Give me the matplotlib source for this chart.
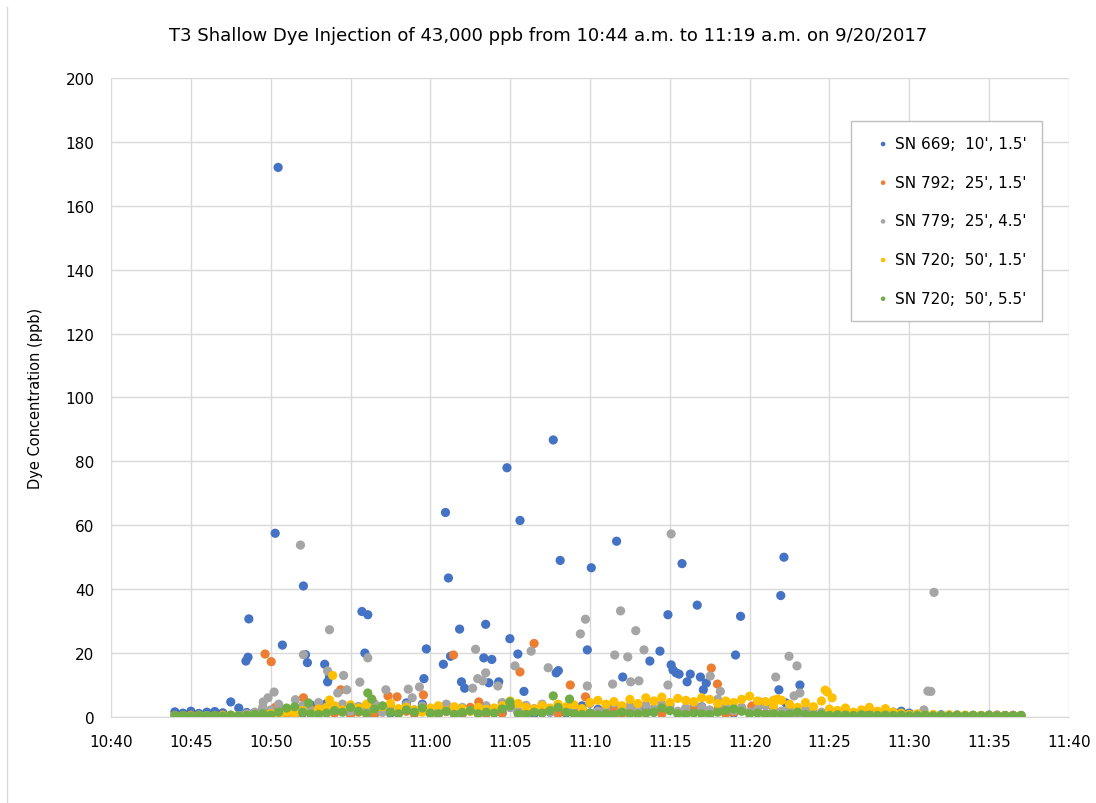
import datetime as dt

import matplotlib as mpl
mpl.use('Agg')
import matplotlib.pyplot as plt
import matplotlib.dates as mdates
from matplotlib.lines import Line2D

# base logger readings every 30 s, 10:44:00 .. 11:37:00 (one row = 5 minutes)
blue_base = [1.6, 1.2, 1.8, 1.1, 1.5, 1.7, 1.3, 4.7, 2.8, 1.4,
             1.0, 2.2, 0.8, 3.0, 1.5, 2.4, 1.2, 3.8, 2.0, 4.2,
             1.5, 2.5, 1.0, 3.2, 1.8, 0.8, 2.6, 1.2, 2.0, 4.4,
             2.2, 4.0, 1.2, 3.0, 1.8, 2.5, 1.0, 2.8, 1.5, 2.0,
             2.5, 1.2, 3.0, 1.5, 2.2, 1.0, 2.8, 1.5, 2.0, 1.2,
             1.8, 3.5, 1.2, 2.4, 1.0, 2.6, 1.5, 3.0, 1.2, 2.0,
             1.5, 2.8, 4.0, 1.2, 2.5, 1.8, 3.2, 1.0, 2.2, 1.5,
             1.2, 2.0, 1.5, 3.0, 1.0, 2.2, 1.5, 1.8, 1.0, 1.4,
             1.2, 0.8, 1.5, 1.0, 1.3, 0.9, 1.6, 1.1, 1.4, 1.0,
             1.5, 1.8, 1.2, 0.8, 0.6, 0.5, 0.7, 0.5, 0.6, 0.4,
             0.5, 0.4, 0.6, 0.5, 0.4, 0.5, 0.4]
orange_base = [0.5, 0.4, 0.6, 0.5, 0.4, 0.5, 0.6, 0.5, 0.4, 0.6,
               0.8, 1.5, 1.0, 2.0, 1.2, 0.8, 1.5, 2.5, 1.0, 1.8,
               1.2, 2.0, 0.8, 1.5, 2.2, 1.0, 1.6, 2.4, 1.2, 1.8,
               1.0, 2.2, 1.5, 0.8, 1.8, 2.5, 1.2, 3.0, 1.5, 1.0,
               2.0, 1.2, 3.2, 1.5, 0.8, 2.6, 1.4, 2.0, 1.0, 1.6,
               1.2, 2.4, 0.8, 1.8, 1.4, 2.2, 1.0, 1.5, 2.6, 1.2,
               1.8, 1.0, 2.4, 1.5, 2.0, 3.0, 1.2, 1.6, 2.2, 1.0,
               1.5, 2.8, 1.2, 1.8, 1.0, 2.0, 1.4, 0.8, 1.2, 1.0,
               0.8, 1.0, 0.6, 0.9, 0.7, 1.0, 0.6, 0.8, 0.5, 0.7,
               0.6, 0.5, 0.7, 0.4, 0.6, 0.5, 0.4, 0.5, 0.6, 0.4,
               0.5, 0.4, 0.5, 0.6, 0.4, 0.5, 0.4]
gray_base = [0.3, 0.4, 0.3, 0.5, 0.3, 0.4, 0.3, 0.5, 0.4, 1.0,
             1.5, 3.0, 2.2, 4.0, 2.5, 1.8, 3.5, 2.0, 4.5, 3.0,
             2.5, 4.0, 1.8, 3.2, 2.6, 4.2, 1.5, 3.0, 2.2, 3.8,
             2.0, 3.4, 1.6, 2.8, 4.0, 2.2, 3.0, 1.8, 2.6, 3.5,
             2.2, 4.5, 3.0, 1.8, 3.6, 2.4, 4.0, 1.6, 3.2, 2.5,
             3.5, 2.2, 4.2, 1.8, 3.0, 4.4, 2.6, 3.4, 2.0, 3.8,
             2.6, 4.0, 3.2, 1.8, 2.8, 4.5, 3.0, 2.2, 5.5, 3.2,
             2.0, 3.0, 1.5, 2.5, 3.5, 2.0, 1.8, 2.8, 1.2, 2.2,
             1.0, 1.5, 0.8, 1.2, 0.6, 1.0, 0.8, 0.5, 0.7, 0.6,
             0.5, 0.6, 0.4, 0.5, 0.4, 0.6, 0.4, 0.5, 0.3, 0.4,
             0.4, 0.3, 0.4, 0.3, 0.4, 0.3, 0.4]
yellow_base = [0.3, 0.4, 0.3, 0.5, 0.4, 0.3, 0.5, 0.4, 0.3, 0.5,
               0.6, 0.8, 1.0, 0.7, 1.5, 1.2, 2.0, 1.0, 2.5, 3.0,
               3.5, 2.2, 3.8, 2.8, 4.0, 2.5, 3.2, 4.2, 2.6, 3.0,
               2.2, 1.5, 2.8, 3.5, 2.0, 3.2, 2.6, 1.8, 3.0, 2.4,
               2.8, 3.5, 5.0, 4.2, 3.0, 2.5, 3.6, 2.8, 4.0, 3.2,
               3.8, 2.6, 4.5, 5.2, 4.0, 4.8, 3.5, 5.5, 4.2, 6.0,
               5.0, 6.2, 4.5, 5.8, 5.2, 4.8, 6.0, 5.5, 4.2, 5.0,
               4.5, 5.5, 6.5, 5.0, 4.8, 3.5, 5.2, 4.0, 3.0, 4.5,
               3.2, 5.0, 2.5, 2.0, 2.8, 1.5, 2.2, 3.0, 1.8, 2.6,
               1.5, 1.2, 0.8, 1.0, 0.6, 0.8, 0.5, 0.7, 0.5, 0.6,
               0.4, 0.5, 0.4, 0.3, 0.4, 0.3, 0.4]
green_base = [0.4, 0.5, 0.3, 0.6, 0.4, 0.5, 0.3, 0.6, 0.4, 0.5,
              0.8, 1.0, 0.6, 1.5, 2.8, 3.2, 1.5, 1.0, 0.8, 1.2,
              2.0, 1.5, 3.0, 1.8, 1.0, 2.5, 3.5, 1.5, 1.0, 2.2,
              1.5, 2.8, 1.2, 1.0, 1.8, 0.8, 1.4, 2.0, 1.0, 1.5,
              1.2, 2.5, 3.5, 1.0, 0.8, 1.5, 1.2, 2.0, 3.0, 1.5,
              1.0, 0.8, 1.2, 0.7, 1.0, 0.8, 1.5, 1.0, 0.9, 1.2,
              1.5, 2.8, 2.0, 1.0, 0.8, 1.2, 1.0, 0.8, 1.5, 2.0,
              2.5, 1.8, 1.0, 1.2, 0.8, 1.0, 0.7, 0.9, 1.5, 0.8,
              0.6, 0.8, 0.5, 0.7, 0.6, 0.5, 0.7, 0.6, 0.5, 0.6,
              0.5, 0.6, 0.4, 0.5, 0.6, 0.4, 0.5, 0.4, 0.5, 0.4,
              0.5, 0.4, 0.5, 0.4, 0.5, 0.4, 0.5]

# higher individual readings (time, ppb)
blue_peaks = [("10:48:27", 17.5), ("10:48:35", 18.7), ("10:48:38", 30.7),
              ("10:50:17", 57.5), ("10:50:28", 172), ("10:50:44", 22.5),
              ("10:52:03", 41), ("10:52:11", 19.5), ("10:52:18", 17),
              ("10:53:23", 16.5), ("10:53:34", 11), ("10:53:41", 12.5),
              ("10:55:43", 33), ("10:55:54", 20), ("10:56:05", 32),
              ("10:59:36", 12), ("10:59:45", 21.3), ("11:00:49", 16.5),
              ("11:00:57", 64), ("11:01:08", 43.5), ("11:01:16", 19),
              ("11:01:50", 27.5), ("11:01:57", 11), ("11:02:09", 9),
              ("11:03:21", 18.5), ("11:03:28", 29), ("11:03:40", 10.7),
              ("11:03:51", 18), ("11:04:17", 11), ("11:04:48", 78),
              ("11:04:59", 24.5), ("11:05:29", 19.7), ("11:05:37", 61.5),
              ("11:05:52", 8), ("11:07:42", 86.7), ("11:07:53", 13.8),
              ("11:08:01", 14.5), ("11:08:08", 49), ("11:09:50", 21),
              ("11:10:05", 46.7), ("11:11:40", 55), ("11:12:03", 12.5),
              ("11:13:45", 17.5), ("11:14:23", 20.6), ("11:14:53", 32),
              ("11:15:05", 16.3), ("11:15:12", 14.7), ("11:15:24", 13.8),
              ("11:15:35", 13.4), ("11:15:46", 48), ("11:16:05", 11),
              ("11:16:17", 13.4), ("11:16:43", 35), ("11:16:55", 12.5),
              ("11:17:06", 8.5), ("11:17:17", 10.6), ("11:19:07", 19.4),
              ("11:19:26", 31.5), ("11:21:50", 8.5), ("11:21:57", 38),
              ("11:22:09", 50), ("11:22:16", 4.4), ("11:23:09", 10)]
orange_peaks = [("10:49:39", 19.7), ("10:50:02", 17.3), ("10:50:17", 3),
                ("10:52:03", 6), ("10:54:23", 8.5), ("10:57:21", 6.6),
                ("10:57:55", 6.3), ("10:59:34", 6.9), ("11:01:27", 19.4),
                ("11:03:02", 4.7), ("11:05:37", 14.1), ("11:06:30", 23),
                ("11:08:46", 10), ("11:09:43", 6.3), ("11:17:36", 15.3),
                ("11:17:59", 10.3), ("11:20:08", 3.4)]
gray_peaks = [("10:49:32", 4.7), ("10:49:50", 6), ("10:50:13", 7.8),
              ("10:51:33", 5.4), ("10:51:52", 53.8), ("10:52:03", 19.5),
              ("10:53:34", 14.4), ("10:53:41", 27.3), ("10:54:12", 7.5),
              ("10:54:34", 13), ("10:54:46", 8.5), ("10:55:35", 10.9),
              ("10:56:05", 18.5), ("10:57:13", 8.5), ("10:58:37", 8.7),
              ("10:58:52", 6), ("10:59:19", 9.4), ("11:02:39", 9),
              ("11:02:50", 21.2), ("11:02:58", 12), ("11:03:17", 11.3),
              ("11:03:28", 13.8), ("11:04:14", 9.7), ("11:05:18", 16),
              ("11:06:19", 20.6), ("11:07:23", 15.4), ("11:09:24", 26),
              ("11:09:43", 30.6), ("11:09:50", 9.7), ("11:11:25", 10.3),
              ("11:11:33", 19.4), ("11:11:55", 33.2), ("11:12:22", 18.8),
              ("11:12:33", 11), ("11:12:52", 27), ("11:13:04", 11.3),
              ("11:13:23", 21), ("11:14:53", 10), ("11:15:05", 57.3),
              ("11:17:32", 12.8), ("11:18:10", 8), ("11:20:38", 4.7),
              ("11:21:38", 12.5), ("11:22:28", 19), ("11:22:47", 6.6),
              ("11:22:58", 16), ("11:23:09", 7.5), ("11:30:55", 2.2),
              ("11:31:10", 8.1), ("11:31:21", 8), ("11:31:33", 39)]
yellow_peaks = [("10:53:41", 5.3), ("10:53:53", 13), ("11:21:31", 5.3),
                ("11:21:46", 5.6), ("11:24:44", 8.4), ("11:24:52", 7.8),
                ("11:25:10", 6)]
green_peaks = [("10:52:22", 4.4), ("10:56:05", 7.5), ("10:56:20", 5.6),
               ("11:04:59", 4.7), ("11:07:42", 6.6), ("11:08:43", 5.6)]

labels = ["SN 669;  10', 1.5'", "SN 792;  25', 1.5'", "SN 779;  25', 4.5'",
          "SN 720;  50', 1.5'", "SN 720;  50', 5.5'"]
colors = ["#4472C4", "#ED7D31", "#A5A5A5", "#FFC000", "#70AD47"]

day = dt.date(2017, 9, 20)


def tm(s):
    return dt.datetime.combine(day, dt.datetime.strptime(s, "%H:%M:%S").time())


start = tm("10:44:00")
base_times = [start + dt.timedelta(seconds=30 * i) for i in range(len(blue_base))]

series = [(blue_base, blue_peaks), (orange_base, orange_peaks), (gray_base, gray_peaks),
          (yellow_base, yellow_peaks), (green_base, green_peaks)]

fig = plt.figure(figsize=(10.96, 8.04), dpi=100)
ax = fig.add_axes([0.1013, 0.107, 0.874, 0.7948])

for (base, peaks), col, lab in zip(series, colors, labels):
    xs = base_times + [tm(t) for t, v in peaks]
    ys = base + [v for t, v in peaks]
    ax.scatter(xs, ys, s=44, color=col, edgecolors='none', label=lab, zorder=3)

ax.set_xlim(tm("10:40:00"), tm("11:40:00"))
ax.set_ylim(0, 200)
ax.set_yticks(range(0, 201, 20))
ax.xaxis.set_major_locator(mdates.MinuteLocator(byminute=range(0, 60, 5)))
ax.xaxis.set_major_formatter(mdates.DateFormatter("%H:%M"))

ax.grid(True, color="#D9D9D9", linewidth=1, zorder=0)
ax.set_axisbelow(True)
for side in ["top", "right", "left"]:
    ax.spines[side].set_visible(False)
ax.spines["bottom"].set_color("#D9D9D9")
ax.tick_params(length=0, labelsize=11, pad=12)

ax.set_ylabel("Dye Concentration (ppb)", fontsize=10.5, labelpad=16)
fig.suptitle("T3 Shallow Dye Injection of 43,000 ppb from 10:44 a.m. to 11:19 a.m. on 9/20/2017",
             fontsize=13, y=0.967)

leg = ax.legend(loc="upper left", bbox_to_anchor=(0.7725, 0.933), fontsize=11,
                markerscale=0.5, labelspacing=1.55, handletextpad=-0.3,
                borderpad=1.0, fancybox=False, framealpha=1, handlelength=2.2,
                borderaxespad=0)
leg.get_frame().set_edgecolor("#BFBFBF")
leg.get_frame().set_linewidth(1)

# chart area border on the left
fig.add_artist(Line2D([7 / 1096, 7 / 1096], [0.0, 0.99], color="#D9D9D9", linewidth=1))

fig.savefig("out.png", dpi=100)
